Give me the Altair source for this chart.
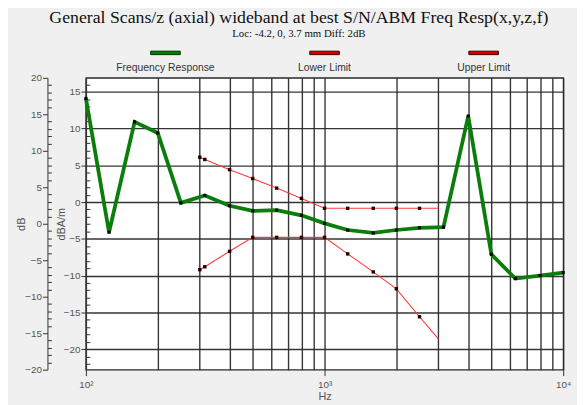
import altair as alt
import pandas as pd

TITLE = "General Scans/z (axial) wideband at best S/N/ABM Freq Resp(x,y,z,f)"
SUBTITLE = "Loc: -4.2, 0, 3.7 mm Diff: 2dB"

# Frequency response (dBA/m) at 1/3-octave frequencies
FREQ_HZ = [100, 125, 160, 200, 250, 315, 400, 500, 630, 800, 1000, 1250,
           1600, 2000, 2500, 3150, 4000, 5000, 6300, 8000, 10000]
FREQ_DBA = [14.1, -4.1, 10.9, 9.4, -0.1, 0.9, -0.5, -1.2, -1.1, -1.8, -2.9, -3.8,
            -4.2, -3.8, -3.5, -3.4, 11.7, -7.1, -10.4, -10.0, -9.6]

LIMIT_HZ = [300, 315, 400, 500, 630, 800, 1000, 1250, 1600, 2000, 2500, 3000]
UPPER_DBA = [6.1, 5.8, 4.4, 3.2, 1.9, 0.5, -0.85, -0.85, -0.85, -0.85, -0.85, -0.85]
LOWER_DBA = [-9.2, -8.8, -6.7, -4.8, -4.8, -4.8, -4.8, -7.05, -9.5, -11.8, -15.6, -18.6]

LEGEND_NAMES = ["Frequency Response", "Lower Limit", "Upper Limit"]

X_DOMAIN = [100, 10000]
X_GRID = [100, 200, 300, 400, 500, 600, 700, 800, 900,
          1000, 2000, 3000, 4000, 5000, 6000, 7000, 8000, 9000, 10000]
INNER_DOMAIN = [-22.8, 16.9]
INNER_MAJOR = [-20, -15, -10, -5, 0, 5, 10, 15]
INNER_MINOR = [v for v in range(-22, 17) if v % 5 != 0]
OUTER_DOMAIN = [-20, 20]
OUTER_MAJOR = [-20, -15, -10, -5, 0, 5, 10, 15, 20]
OUTER_MINOR = [v for v in range(-20, 21) if v % 5 != 0]

# ---- layout / style ----
W, H = 484, 296
OUTER_OFFSET = 39
GREEN = "#0a7d0a"
RED = "#ff3a3a"
LEGEND_FILL = ["#008000", "#d00000", "#d00000"]
LEGEND_STROKE = ["#003300", "#400000", "#400000"]
SANS = "Liberation Sans"
SERIF = "Liberation Serif"

fr_df = pd.DataFrame({"hz": FREQ_HZ, "dba": FREQ_DBA})
up_df = pd.DataFrame({"hz": LIMIT_HZ, "dba": UPPER_DBA})
lo_df = pd.DataFrame({"hz": LIMIT_HZ, "dba": LOWER_DBA})

x_enc = alt.X(
    "hz:Q",
    scale=alt.Scale(type="log", domain=X_DOMAIN, nice=False),
    axis=alt.Axis(
        values=X_GRID, grid=True, title="Hz", tickSize=6,
        tickOpacity={"condition": {"test": "datum.value == 100 || datum.value == 1000 || datum.value == 10000", "value": 1}, "value": 0},
        labelExpr="datum.value == 100 ? '10²' : datum.value == 1000 ? '10³' : datum.value == 10000 ? '10⁴' : ''",
        labelOverlap=False, labelFlush=False, labelPadding=4, titlePadding=1, domain=False,
    ),
)

inner_scale = alt.Scale(domain=INNER_DOMAIN, nice=False, zero=False)
y_enc = alt.Y(
    "dba:Q", scale=inner_scale,
    axis=alt.Axis(orient="left", values=INNER_MAJOR, title="dBA/m", grid=True,
                  tickSize=5, labelPadding=1, domain=True,
                  titleX=-25, titleY=H / 2, titleBaseline="middle", titleAlign="center"),
)

pt = alt.OverlayMarkDef(filled=True, color="black", size=10, shape="square")
green = alt.Chart(fr_df).mark_line(color=GREEN, strokeWidth=3.8, point=pt).encode(x=x_enc, y=y_enc)
upper = alt.Chart(up_df).mark_line(color=RED, strokeWidth=1.1).encode(x=x_enc, y=y_enc)
lower = alt.Chart(lo_df).mark_line(color=RED, strokeWidth=1.1).encode(x=x_enc, y=y_enc)
upper_pts = alt.Chart(up_df).transform_filter("datum.hz < 3000").mark_point(
    filled=True, color="#200000", size=12, shape="square", opacity=1).encode(x=x_enc, y=y_enc)
lower_pts = alt.Chart(lo_df).transform_filter("datum.hz < 3000").mark_point(
    filled=True, color="#200000", size=12, shape="square", opacity=1).encode(x=x_enc, y=y_enc)

data_layer = alt.layer(green, upper, lower, upper_pts, lower_pts)

inner_minor = alt.Chart(pd.DataFrame({"v": INNER_MINOR})).mark_point(opacity=0).encode(
    y=alt.Y("v:Q", scale=inner_scale,
            axis=alt.Axis(orient="right", offset=-W, values=INNER_MINOR, labels=False,
                          grid=False, domain=False, ticks=True, tickSize=4, title=None)))

outer_scale = alt.Scale(domain=OUTER_DOMAIN, nice=False, zero=False)
outer = alt.Chart(pd.DataFrame({"v": OUTER_MAJOR})).mark_point(opacity=0).encode(
    y=alt.Y("v:Q", scale=outer_scale,
            axis=alt.Axis(orient="left", offset=OUTER_OFFSET, values=OUTER_MAJOR, title="dB",
                          grid=False, domain=True, tickSize=5, labelPadding=1,
                          titleX=-26, titleY=H / 2, titleBaseline="middle", titleAlign="center")))
outer_minor = alt.Chart(pd.DataFrame({"v": OUTER_MINOR})).mark_point(opacity=0).encode(
    y=alt.Y("v:Q", scale=outer_scale,
            axis=alt.Axis(orient="right", offset=-(W + OUTER_OFFSET), values=OUTER_MINOR,
                          labels=False, grid=False, domain=False, ticks=True, tickSize=4, title=None)))

legend_layers = []
for i, name in enumerate(LEGEND_NAMES):
    cx = W * (2 * i + 1) / 6
    ldf = pd.DataFrame({"name": [name]})
    legend_layers.append(
        alt.Chart(ldf).mark_rect(fill=LEGEND_FILL[i], stroke=LEGEND_STROKE[i], strokeWidth=1).encode(
            x=alt.value(cx - 15), x2=alt.value(cx + 15), y=alt.value(-27), y2=alt.value(-23.5)))
    legend_layers.append(
        alt.Chart(ldf).mark_text(font=SANS, fontSize=10.5, color="#333", align="center",
                                 baseline="middle").encode(
            x=alt.value(cx), y=alt.value(-9.5), text="name:N"))

chart = alt.layer(data_layer, inner_minor, outer, outer_minor, *legend_layers).resolve_scale(
    y="independent"
).properties(
    width=W, height=H,
    padding={"left": 79, "top": 68, "right": 14, "bottom": 33},
    autosize=alt.AutoSizeParams(type="none"),
    background="#f0f0f0",
    title=alt.TitleParams(
        text=TITLE, subtitle=SUBTITLE, anchor="middle", frame="group", dx=-26,
        font=SERIF, fontSize=18, fontWeight="normal", color="#111",
        subtitleFont=SERIF, subtitleFontSize=11, subtitleColor="#111",
        subtitlePadding=1, offset=12,
    ),
).configure_view(
    fill="white", stroke="#2a2a2a", strokeWidth=1.3
).configure_axis(
    labelFont=SANS, labelFontSize=10, labelColor="#555",
    titleFont=SANS, titleFontSize=11, titleColor="#555", titleFontWeight="normal",
    tickColor="#333", domainColor="#333", gridColor="#2a2a2a", gridWidth=1.4, gridOpacity=0.95,
)

chart.save("out.html", embed_options={"renderer": "svg", "actions": False})
